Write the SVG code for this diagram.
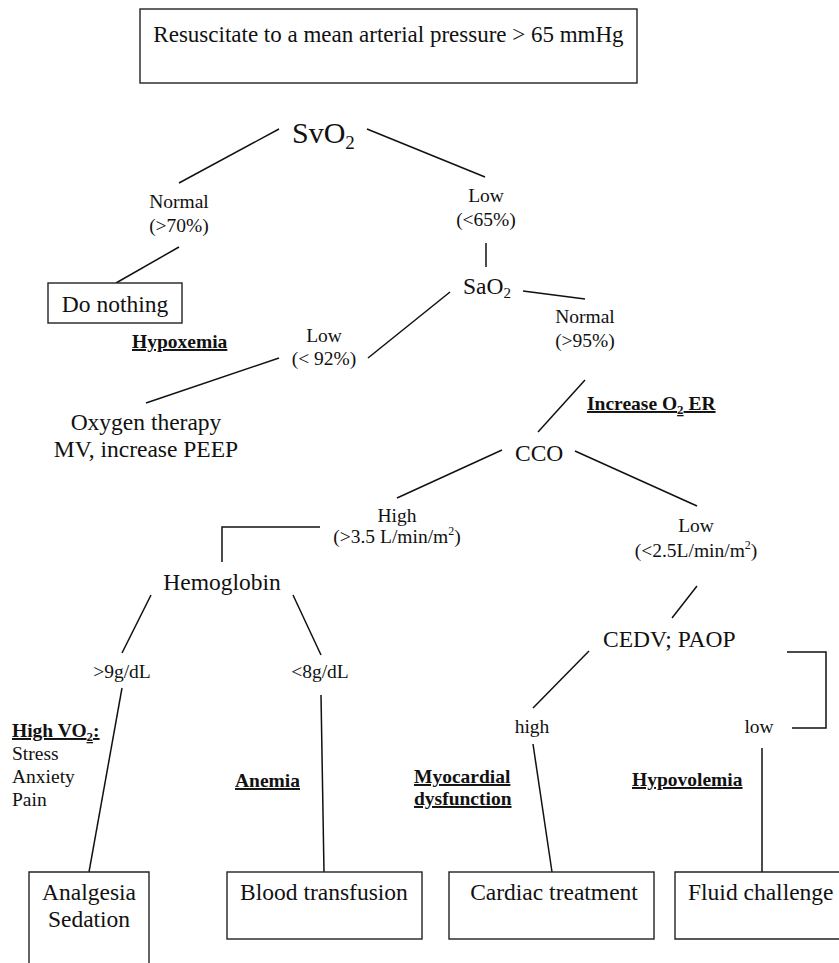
<svg xmlns="http://www.w3.org/2000/svg" width="839" height="963" viewBox="0 0 839 963">
<style>
text{font-family:"Liberation Serif","Times New Roman",serif;fill:#111}
.big{font-size:23.5px}
.sm{font-size:19.5px}
.bold{font-size:19.5px;font-weight:bold;text-decoration:underline}
.m{text-anchor:middle}
.box{fill:#fff;stroke:#222;stroke-width:1.4}
.ln{stroke:#111;stroke-width:1.5;fill:none}
</style>
<rect width="839" height="963" fill="#fff"/>
<g id="connectors">
<line class="ln" x1="279" y1="129" x2="179" y2="183"/>
<line class="ln" x1="367" y1="129" x2="485" y2="177"/>
<line class="ln" x1="179" y1="247" x2="116" y2="283"/>
<line class="ln" x1="486" y1="243" x2="486" y2="267"/>
<line class="ln" x1="450" y1="292" x2="368" y2="358"/>
<line class="ln" x1="523" y1="291" x2="585" y2="299"/>
<line class="ln" x1="279" y1="358" x2="146" y2="403"/>
<line class="ln" x1="585" y1="380" x2="538" y2="432"/>
<line class="ln" x1="502" y1="450" x2="397" y2="498"/>
<line class="ln" x1="575" y1="451" x2="697" y2="506"/>
<polyline class="ln" points="320,527 222,527 222,562"/>
<line class="ln" x1="151" y1="595" x2="122" y2="653"/>
<line class="ln" x1="293" y1="595" x2="321" y2="655"/>
<line class="ln" x1="122" y1="688" x2="89" y2="872"/>
<line class="ln" x1="321" y1="695" x2="324" y2="872"/>
<line class="ln" x1="697" y1="586" x2="672" y2="618"/>
<line class="ln" x1="589" y1="651" x2="533" y2="708"/>
<polyline class="ln" points="787,652 826,652 826,728 792,728"/>
<line class="ln" x1="533" y1="744" x2="552" y2="872"/>
<line class="ln" x1="762" y1="748" x2="762" y2="872"/>
</g>
<g id="map">
<rect class="box" x="140" y="9" width="497" height="74"/>
<text class="big m" x="388.5" y="42" style="font-size:23px">Resuscitate to a mean arterial pressure &gt; 65 mmHg</text>
</g>
<g id="svo2"><text x="292" y="143" style="font-size:30px">SvO<tspan font-size="19" dy="6">2</tspan></text></g>
<g id="normal70"><text class="sm m" x="179" y="208">Normal</text><text class="sm m" x="179" y="232">(&gt;70%)</text></g>
<g id="donothing"><rect class="box" x="48" y="283" width="134" height="40"/><text class="big m" x="115" y="312">Do nothing</text></g>
<g id="low65"><text class="sm m" x="486" y="202">Low</text><text class="sm m" x="486" y="226">(&lt;65%)</text></g>
<g id="sao2"><text class="big" x="463" y="294">SaO<tspan font-size="15" dy="4">2</tspan></text></g>
<g id="normal95"><text class="sm m" x="585" y="323">Normal</text><text class="sm m" x="585" y="347">(&gt;95%)</text></g>
<g id="hypoxemia"><text class="bold" x="132" y="348">Hypoxemia</text></g>
<g id="low92"><text class="sm m" x="324" y="342">Low</text><text class="sm m" x="324" y="365">(&lt; 92%)</text></g>
<g id="oxygen"><text class="big m" x="146" y="430">Oxygen therapy</text><text class="big m" x="146" y="457">MV, increase PEEP</text></g>
<g id="increaseO2ER"><text class="bold" x="587" y="410">Increase O<tspan font-size="13" dy="4">2</tspan><tspan dy="-4"> ER</tspan></text></g>
<g id="cco"><text class="big" x="515" y="461">CCO</text></g>
<g id="high35"><text class="sm m" x="397" y="522">High</text><text class="sm m" x="397" y="543">(&gt;3.5 L/min/m<tspan font-size="12" dy="-8">2</tspan><tspan dy="8">)</tspan></text></g>
<g id="low25"><text class="sm m" x="696" y="532">Low</text><text class="sm m" x="696" y="557">(&lt;2.5L/min/m<tspan font-size="12" dy="-8">2</tspan><tspan dy="8">)</tspan></text></g>
<g id="hemoglobin"><text class="big m" x="222" y="590">Hemoglobin</text></g>
<g id="cedv"><text class="big" x="603" y="647">CEDV; PAOP</text></g>
<g id="gt9"><text class="sm m" x="122" y="678">&gt;9g/dL</text></g>
<g id="lt8"><text class="sm m" x="320" y="678">&lt;8g/dL</text></g>
<g id="high"><text class="sm m" x="532" y="733">high</text></g>
<g id="low"><text class="sm m" x="759" y="733">low</text></g>
<g id="highvo2"><text class="bold" x="12" y="737">High VO<tspan font-size="13" dy="4">2</tspan><tspan dy="-4">:</tspan></text>
<text class="sm" x="12" y="760">Stress</text><text class="sm" x="12" y="783">Anxiety</text><text class="sm" x="12" y="806">Pain</text></g>
<g id="anemia"><text class="bold" x="235" y="787">Anemia</text></g>
<g id="myocardial"><text class="bold" x="414" y="783">Myocardial</text><text class="bold" x="414" y="805">dysfunction</text></g>
<g id="hypovolemia"><text class="bold" x="632" y="786">Hypovolemia</text></g>
<g id="analgesia"><path class="box" d="M29,970 V872 H149 V970"/><text class="big m" x="89" y="900">Analgesia</text><text class="big m" x="89" y="927">Sedation</text></g>
<g id="blood"><rect class="box" x="227" y="872" width="195" height="67"/><text class="big m" x="324" y="900">Blood transfusion</text></g>
<g id="cardiac"><rect class="box" x="449" y="872" width="205" height="67"/><text class="big m" x="554" y="900">Cardiac treatment</text></g>
<g id="fluid"><path class="box" d="M845,872 H675 V939 H845"/><text class="big" x="688" y="900">Fluid challenge</text></g>
</svg>
